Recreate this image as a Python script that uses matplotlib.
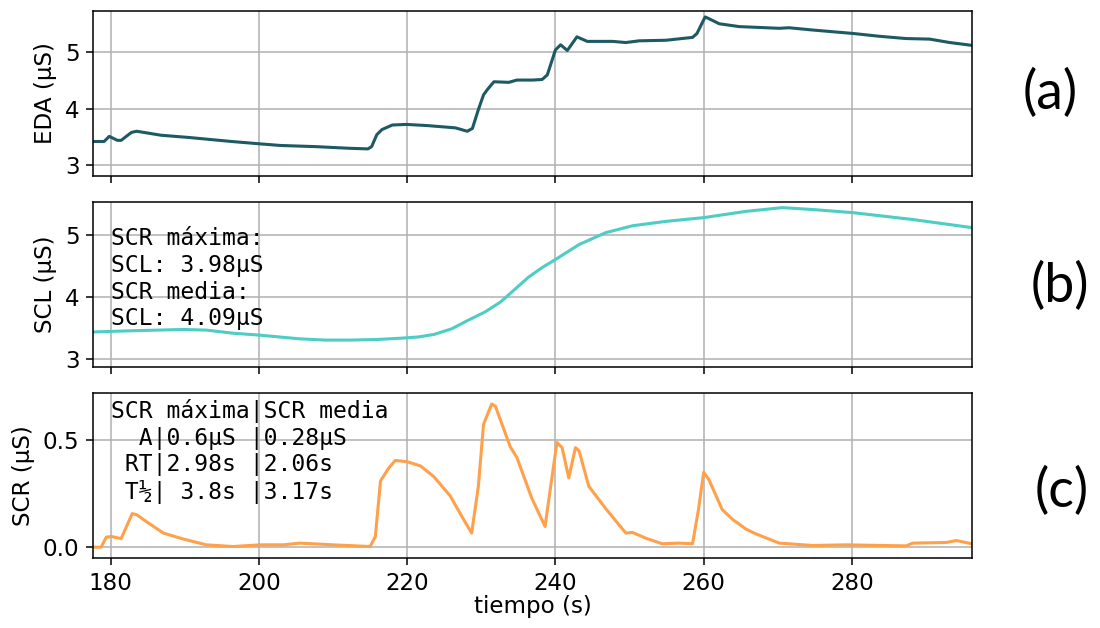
import matplotlib
matplotlib.use("Agg")
import matplotlib.pyplot as plt

# EDA signal (raw)
eda_t = [177.6, 179.1, 179.8, 180.9, 181.4, 182.8, 183.5, 186.8, 190.6, 196.3,
         200.0, 202.9, 207.6, 212.3, 214.7, 215.2, 215.9, 216.6, 218.0, 219.9,
         222.7, 226.5, 228.1, 228.8, 229.6, 230.3, 230.8, 231.7, 233.7, 234.8,
         236.9, 238.2, 238.9, 240.0, 240.7, 241.6, 242.9, 244.3, 247.7, 249.5,
         251.3, 254.9, 258.5, 259.1, 260.2, 260.7, 262.1, 264.8, 270.2, 271.5,
         274.7, 280.1, 283.7, 287.3, 290.5, 293.2, 296.2]
eda_v = [3.42, 3.42, 3.51, 3.44, 3.44, 3.58, 3.60, 3.53, 3.49, 3.42,
         3.38, 3.35, 3.33, 3.30, 3.29, 3.33, 3.54, 3.63, 3.71, 3.72,
         3.70, 3.66, 3.60, 3.65, 3.98, 4.24, 4.33, 4.47, 4.46, 4.50,
         4.50, 4.51, 4.59, 5.03, 5.12, 5.02, 5.26, 5.18, 5.18, 5.16,
         5.19, 5.20, 5.25, 5.32, 5.61, 5.58, 5.49, 5.44, 5.41, 5.42,
         5.38, 5.32, 5.27, 5.23, 5.22, 5.16, 5.11]

# tonic component
scl_t = [177.6, 183.0, 189.8, 192.9, 196.5, 200.0, 205.5, 209.0, 212.3, 216.0,
         219.1, 221.5, 223.6, 226.0, 228.1, 230.5, 232.6, 234.5, 236.4, 238.2,
         240.0, 243.2, 246.8, 250.4, 254.9, 260.0, 265.7, 270.6, 274.7, 280.1,
         288.2, 296.2]
scl_v = [3.44, 3.46, 3.48, 3.47, 3.42, 3.39, 3.33, 3.31, 3.31, 3.32,
         3.34, 3.36, 3.40, 3.49, 3.62, 3.76, 3.92, 4.12, 4.32, 4.47,
         4.60, 4.84, 5.03, 5.14, 5.21, 5.27, 5.37, 5.43, 5.40, 5.35,
         5.24, 5.11]

# phasic component
scr_t = [177.6, 178.7, 179.4, 180.1, 181.4, 182.9, 183.5, 184.8, 187.1, 189.8,
         192.9, 196.5, 200.1, 203.3, 205.5, 210.0, 215.0, 215.7, 216.4, 217.5,
         218.4, 220.0, 221.8, 223.6, 225.8, 227.6, 228.7, 229.6, 230.3, 231.4,
         231.9, 233.9, 234.8, 236.8, 238.6, 239.3, 240.2, 240.9, 241.8, 242.7,
         243.2, 244.5, 246.8, 249.5, 250.4, 252.2, 254.4, 256.7, 258.5, 259.3,
         260.0, 260.7, 262.5, 263.9, 265.7, 267.0, 270.2, 274.7, 279.2, 287.3,
         288.2, 292.7, 294.1, 296.2]
scr_v = [0.0, 0.0, 0.047, 0.05, 0.04, 0.157, 0.152, 0.12, 0.066, 0.038,
         0.011, 0.003, 0.011, 0.011, 0.019, 0.011, 0.003, 0.05, 0.31, 0.37,
         0.406, 0.40, 0.38, 0.33, 0.24, 0.13, 0.066, 0.285, 0.575, 0.67,
         0.66, 0.47, 0.42, 0.23, 0.097, 0.27, 0.49, 0.466, 0.324, 0.466,
         0.45, 0.285, 0.18, 0.066, 0.069, 0.042, 0.016, 0.019, 0.016, 0.176,
         0.35, 0.317, 0.176, 0.13, 0.085, 0.063, 0.019, 0.008, 0.011, 0.006,
         0.019, 0.022, 0.031, 0.016]

scl_text = "SCR máxima:\nSCL: 3.98µS\nSCR media:\nSCL: 4.09µS"
scr_text = ("SCR máxima|SCR media\n"
            "  A|0.6µS |0.28µS\n"
            " RT|2.98s |2.06s\n"
            " T½| 3.8s |3.17s")
panel_labels = ["(a)", "(b)", "(c)"]

plt.rcParams["font.size"] = 12

dpi = 138
fig, axs = plt.subplots(3, 1, sharex=True, figsize=(1100 / dpi, 628 / dpi), dpi=dpi)
fig.subplots_adjust(left=0.0845, right=0.8836, top=0.983, bottom=0.111, hspace=0.16)

axs[0].plot(eda_t, eda_v, color="#1d5a64", lw=1.6)
axs[0].set_ylabel("EDA (µS)")
axs[0].set_ylim(2.82, 5.72)

axs[1].plot(scl_t, scl_v, color="#4ecdc4", lw=1.6)
axs[1].set_ylabel("SCL (µS)")
axs[1].set_ylim(2.88, 5.52)
axs[1].text(180, 4.29, scl_text, family="DejaVu Sans Mono", fontsize=12,
            va="center", ha="left")

axs[2].plot(scr_t, scr_v, color="#ffa04a", lw=1.6)
axs[2].set_ylabel("SCR (µS)")
axs[2].set_ylim(-0.052, 0.72)
axs[2].set_yticks([0.0, 0.5])
axs[2].text(180, 0.447, scr_text, family="DejaVu Sans Mono", fontsize=12,
            va="center", ha="left")
axs[2].set_xlabel("tiempo (s)", labelpad=0)
axs[2].set_xlim(177.6, 296.2)
axs[2].set_xticks([180, 200, 220, 240, 260, 280])

for ax in axs:
    ax.grid(True)

# panel letters at the right side
label_pos = [(1050, 93), (1060, 286), (1062, 491)]
for lab, (px, py) in zip(panel_labels, label_pos):
    fig.text(px / 1100, 1 - py / 628, lab, fontsize=28, family="Lato",
             ha="center", va="center")

fig.savefig("out.png", dpi=dpi)
